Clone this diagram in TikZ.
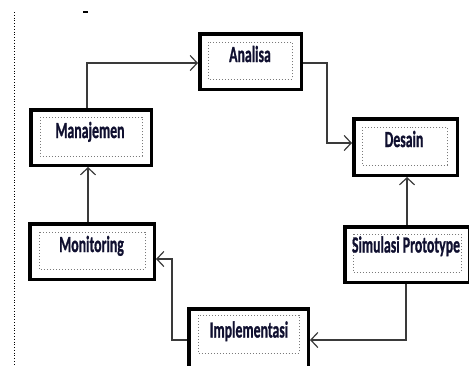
\documentclass[tikz,border=0pt]{standalone}
\usepackage{fontspec}
\setmainfont{Carlito}[BoldFeatures={FakeBold=1.2}]
\usetikzlibrary{arrows.meta,calc}
\newcommand\boxtxt[1]{\scalebox{0.6}[1]{\fontsize{23bp}{26bp}\selectfont\bfseries #1}}
\definecolor{linegray}{HTML}{3A3A3A}
\definecolor{dotgray}{HTML}{7A7A7A}
\definecolor{txtcol}{HTML}{101030}
\tikzset{
  outerbox/.style={draw=black, line width=3.5bp, rectangle, inner sep=0pt},
  innerbox/.style={draw=dotgray, line width=1bp, dotted},
  txt/.style={inner sep=0pt, anchor=base, text=txtcol},
  conn/.style={draw=linegray, line width=1.2bp, -{Straight Barb[length=7bp,width=15bp,line width=1.2bp]}},
}
\begin{document}
\begin{tikzpicture}[x=1bp,y=-1bp]
\useasboundingbox (0,0) rectangle (469,365);
% left dotted margin line and small dash
\draw[black, line width=0.8bp, dotted] (14,12) -- (14,365);
\draw[black, line width=1.5bp] (83,12) -- (88,12);
% outer boxes
\node[outerbox, minimum width=101.5bp, minimum height=55.5bp] (ana) at (250.5,61.5) {};
\node[outerbox, minimum width=103.5bp, minimum height=56.5bp] (des) at (405.5,147) {};
\node[outerbox, minimum width=120.5bp, minimum height=55.5bp] (man) at (91,137.5) {};
\node[outerbox, minimum width=124.5bp, minimum height=55.5bp] (mon) at (92,251.5) {};
\node[outerbox, minimum width=124.5bp, minimum height=55.5bp] (sim) at (407,254.5) {};
\node[outerbox, minimum width=119.5bp, minimum height=62.5bp] (imp) at (248.5,340) {};
% inner dotted boxes
\draw[innerbox] (208,42) rectangle (292,79);
\draw[innerbox] (362,127) rectangle (447,165);
\draw[innerbox] (40,117) rectangle (142,156);
\draw[innerbox] (39,232) rectangle (145,269);
\draw[innerbox] (353,234) rectangle (461,272);
\draw[innerbox] (198,315) rectangle (299,353);
% texts
\node[txt] (tana) at (250,62) {\boxtxt{Analisa}};
\node[txt] (tdes) at (404,147) {\boxtxt{Desain}};
\node[txt] (tman) at (90,138) {\boxtxt{Manajemen}};
\node[txt] (tmon) at (91.5,252) {\boxtxt{Monitoring}};
\node[txt] (tsim) at (406,252.5) {\boxtxt{Simulasi Prototype}};
\node[txt] (timp) at (249,337.5) {\boxtxt{Implementasi}};
% connectors
\coordinate (c1) at ($(man.north)+(-4,0)$);
\draw[conn] (c1) |- ($(ana.west)+(0,1.5)$);
\draw[conn] ($(ana.east)+(0,1.5)$) -- ++(24,0) |- ($(des.west)+(0,-4)$);
\draw[conn] (sim.north) -- (sim.north |- des.south);
\draw[conn] ($(sim.south)+(-1,0)$) |- (imp.east);
\draw[conn] (imp.west) -- ++(-15,0) |- ($(mon.east)+(0,7.5)$);
\draw[conn] ($(mon.north)+(-4,0)$) -- ($(mon.north |- man.south)+(-4,0)$);
\end{tikzpicture}
\end{document}
